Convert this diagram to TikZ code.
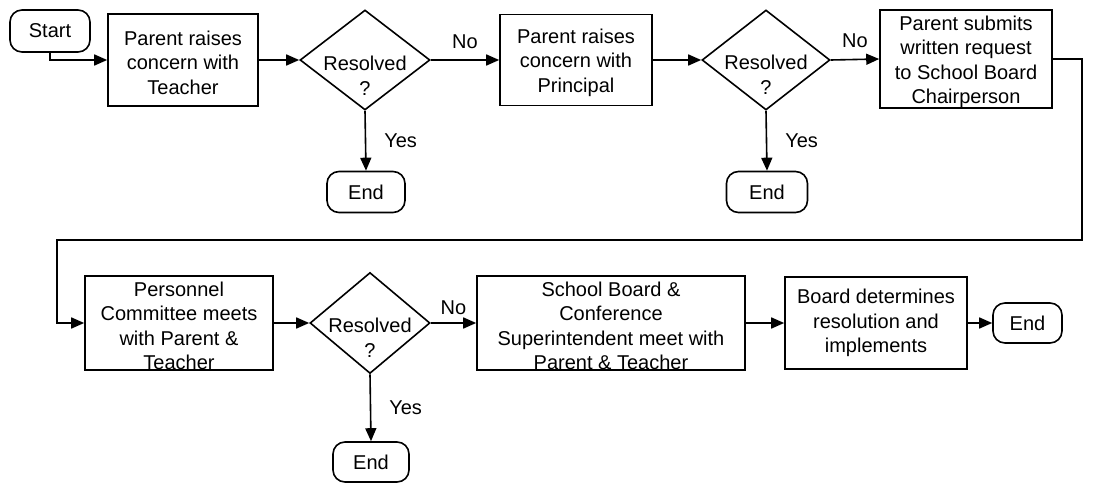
\documentclass[tikz,border=0pt]{standalone}
\usepackage{fontspec}
\setmainfont{Liberation Sans}
\usetikzlibrary{shapes.geometric,arrows.meta}
\newcommand\tstrut{\rule{0pt}{20pt}}
\begin{document}
\begin{tikzpicture}[x=1pt,y=-1pt,
  every node/.style={font=\fontsize{20}{24.5}\selectfont},
  proc/.style={draw, line width=1.6pt, rectangle, inner sep=0pt, align=center},
  term/.style={draw, line width=1.6pt, rectangle, rounded corners=12pt, inner sep=0pt},
  decis/.style={draw, line width=1.6pt, diamond, inner sep=0pt},
  dtext/.style={align=center, inner sep=0pt},
  lab/.style={inner sep=0pt},
  arr/.style={line width=1.6pt, -{Triangle[length=13pt,width=11pt]}}
]
\useasboundingbox (0,0) rectangle (1120,484);

% row 1
\node[term, minimum width=80pt, minimum height=42pt] (start) at (50,31) {Start};
\node[proc, minimum width=150pt, minimum height=92pt] (b1) at (183,60) {\tstrut Parent raises\\concern with\\Teacher};
\node[decis, minimum width=130pt, minimum height=100pt] (d1) at (365,60) {};
\node[dtext] (d1t) at (365,76) {Resolved\\?};
\node[term, minimum width=78pt, minimum height=41pt] (e1) at (366,192) {End};
\node[proc, minimum width=152pt, minimum height=91pt] (b2) at (576,60) {\tstrut Parent raises\\concern with\\Principal};
\node[decis, minimum width=128pt, minimum height=100pt] (d2) at (766,60) {};
\node[dtext] (d2t) at (766,75) {Resolved\\?};
\node[term, minimum width=81pt, minimum height=41pt] (e2) at (767,192) {End};
\node[proc, minimum width=172pt, minimum height=91pt] (b3) at (966,59) {\tstrut Parent submits\\written request\\to School Board\\Chairperson};

% row 2
\node[proc, minimum width=188pt, minimum height=90pt] (b4) at (179,323) {\tstrut Personnel\\Committee meets\\with Parent \&\\Teacher};
\node[decis, minimum width=120pt, minimum height=101pt] (d3) at (370,323) {};
\node[dtext] (d3t) at (370,338) {Resolved\\?};
\node[term, minimum width=76pt, minimum height=40pt] (e4) at (371,462) {End};
\node[proc, minimum width=268pt, minimum height=91pt] (b5) at (611,323) {\tstrut School Board \&\\Conference\\Superintendent meet with\\Parent \& Teacher};
\node[proc, minimum width=182pt, minimum height=92pt] (b6) at (876,323) {Board determines\\resolution and\\implements};
\node[term, minimum width=69pt, minimum height=40pt] (e3) at (1027.5,323) {End};

\coordinate (c1) at (1082,240);
\coordinate (c2) at (57,240);

% connectors
\draw[arr] (start.south) |- (b1.west);
\draw[arr] (b1.east) -- (d1.west);
\draw[arr] (d1.east) -- node[lab, above=11pt] (no1) {No} (b2.west);
\draw[arr] (d1.south) -- node[lab, right=18pt] (yes1) {Yes} (e1.north);
\draw[arr] (b2.east) -- (d2.west);
\draw[arr] (d2.east) -- node[lab, above=11pt] (no2) {No} (b3.west);
\draw[arr] (d2.south) -- node[lab, right=18pt] (yes2) {Yes} (e2.north);
\draw[arr] (b3.east) -| (c1) -- (c2) |- (b4.west);
\draw[arr] (b4.east) -- (d3.west);
\draw[arr] (d3.east) -- node[lab, above=8pt] (no3) {No} (b5.west);
\draw[arr] (d3.south) -- node[lab, right=18pt] (yes3) {Yes} (e4.north);
\draw[arr] (b5.east) -- (b6.west);
\draw[arr] (b6.east) -- (e3.west);
\end{tikzpicture}
\end{document}
